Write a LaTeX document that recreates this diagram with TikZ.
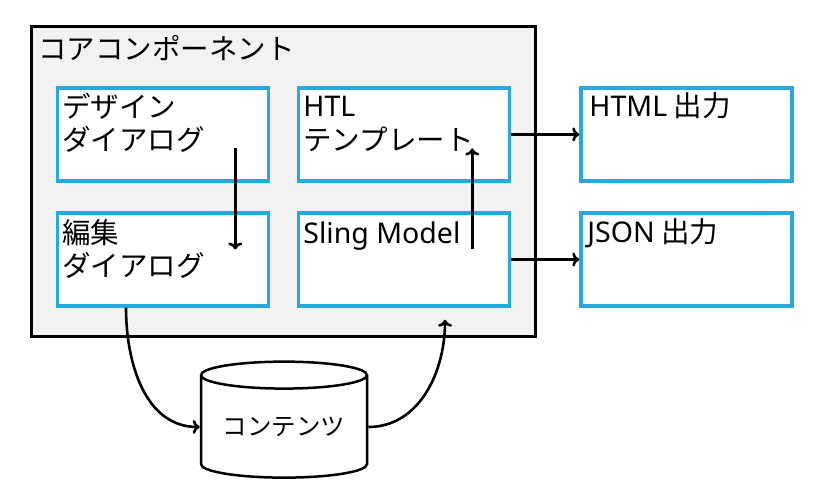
\documentclass[tikz,border=0pt]{standalone}
\usepackage{fontspec}
\setmainfont{Noto Sans CJK JP}
\newfontfamily\latin{Noto Sans}
\usetikzlibrary{arrows.meta,shapes.geometric}
\definecolor{partblue}{RGB}{41,168,224}
\definecolor{coregray}{RGB}{242,242,242}

\begin{document}
\begin{tikzpicture}[x=1pt,y=1pt,>={To[length=7pt,width=14pt]},
  part/.style={draw=partblue,line width=3.5pt,fill=white,minimum width=211pt,minimum height=93pt,inner sep=0pt},
  txt/.style={anchor=base west,align=left,inner sep=0pt,font=\fontsize{28.5}{33.5}\selectfont},
  flow/.style={->,line width=2.6pt}]
\useasboundingbox (0,0) rectangle (827,494);
% core component frame
\node[draw,line width=2.8pt,fill=coregray,minimum width=504.5pt,minimum height=309.5pt] (core) at (283.5,312.5) {};
\node[txt] (coreT) at ([shift={(8,-34)}]core.north west) {コアコンポーネント};
% parts
\node[part] (dd) at (163,359.5) {};
\node[part] (htl) at (404,359.5) {};
\node[part] (ed) at (163,234.5) {};
\node[part] (sm) at (404,234.5) {};
\node[part] (html) at (686.5,359.5) {};
\node[part] (json) at (686.5,234.5) {};
% two-line texts sit on their last line
\node[txt] (ddT) at ([shift={(6.5,-64.5)}]dd.north west) {デザイン\\ダイアログ};
\node[txt] (htlT) at ([shift={(6.5,-64)}]htl.north west) {{\latin HTL}\\テンプレート};
\node[txt] (edT) at ([shift={(6.5,-65.5)}]ed.north west) {編集\\ダイアログ};
\node[txt] (smT) at ([shift={(6.5,-32)}]sm.north west) {\latin Sling Model};
\node[txt] (htmlT) at ([shift={(10,-30)}]html.north west) {{\latin HTML} 出力};
\node[txt] (jsonT) at ([shift={(8,-31)}]json.north west) {{\latin JSON} 出力};
% content store
\node[cylinder,shape border rotate=90,aspect=0.22,draw,line width=2.5pt,fill=white,minimum width=166pt,minimum height=116pt,inner sep=0pt,font=\fontsize{24.5}{28}\selectfont] (db) at (284,67) {コンテンツ};
% flows
\draw[flow] ([shift={(-35,-14)}]dd.east) -- ([shift={(-35,10)}]ed.east);
\draw[flow] ([shift={(-39,10)}]sm.east) -- ([shift={(-39,-14)}]htl.east);
\draw[flow] (htl) -- (html);
\draw[flow] (sm) -- (json);
\draw[flow] ([xshift=-37pt]ed.south) to[out=-90,in=180] (db.west);
\draw[flow] (db.east) to[out=0,in=-90] ([shift={(41,-12)}]sm.south);
\end{tikzpicture}
\end{document}
